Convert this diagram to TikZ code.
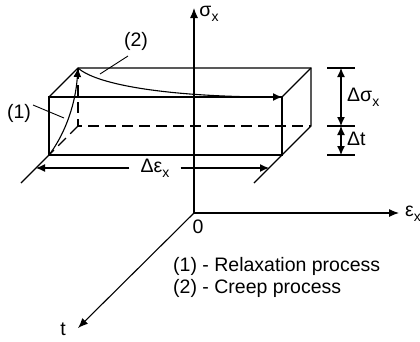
\documentclass[tikz,border=0pt]{standalone}
\usepackage{fontspec}
\setmainfont{Liberation Sans}
\usetikzlibrary{arrows.meta, calc}

\newcommand{\subx}{\raisebox{-0.5ex}{\fontsize{14}{14}\selectfont x}}

\begin{document}
\begin{tikzpicture}[x=1pt, y=-1pt,
  every node/.style={font=\fontsize{19.5}{23}\selectfont, inner sep=0pt},
  edge/.style={line width=1.1pt},
  hidden/.style={line width=1.1pt, dash pattern=on 11pt off 6pt},
  axis/.style={line width=1.1pt, -{Latex[length=10pt,width=8pt]}},
  dimline/.style={line width=1.1pt, {Latex[length=9pt,width=8pt]}-{Latex[length=9pt,width=8pt]}},
  leader/.style={line width=0.9pt}
]
\useasboundingbox (0,0) rectangle (420,341);

% axes
\coordinate (O) at (194,213);
\coordinate (sigtip) at (194,8);
\coordinate (epstip) at (399,213);
\coordinate (ttip) at (78,328);
\draw[axis] (O) -- (sigtip);
\draw[axis] (O) -- (epstip);
\draw[axis] (O) -- (ttip);
\node (siglab) at (209,14) {σ\subx};
\node (epslab) at (413,214) {ε\subx};
\node (tlab) at (63,329) {t};
\node (zero) at (198,227) {0};

% box corners
\coordinate (Fbl) at (49,155);
\coordinate (Ftl) at (49,97);
\coordinate (Ftr) at (282,97);
\coordinate (Fbr) at (282,155);
\coordinate (Bbl) at (78,126);
\coordinate (Btl) at (78,68);
\coordinate (Btr) at (311,68);
\coordinate (Bbr) at (311,126);

\draw[edge] (Ftl) -- (Ftr) -- (Fbr) -- (Fbl) -- cycle;
\draw[edge] (Ftl) -- (Btl) -- (Btr) -- (Bbr) -- (Fbr);
\draw[edge] (Btr) -- (Ftr);
\draw[hidden] (Btl) -- (Bbl) -- (Bbr);
\draw[hidden] (Bbl) -- (Fbl);

% relaxation and creep paths
\draw[edge, -{Latex[length=9pt,width=8pt]}] (Fbl) .. controls (62,138) and (75,110) .. (Btl);
\draw[edge, -{Latex[length=9pt,width=8pt]}] (Btl) .. controls (98,86) and (175,97) .. (Ftr);

\node (one) at (19,113) {(1)};
\node (two) at (136,41) {(2)};
\coordinate (onea) at (33,105);
\coordinate (oneb) at (64,118);
\coordinate (twoa) at (128,56);
\coordinate (twob) at (100,74);
\draw[leader] (onea) -- (oneb);
\draw[leader] (twoa) -- (twob);

% strain dimension
\coordinate (Lext) at (21,183);
\coordinate (Rext) at (254,183);
\coordinate (Ldim) at (36,168);
\coordinate (Rdim) at (269,168);
\draw[edge] (Fbl) -- (Lext);
\draw[edge] (Fbr) -- (Rext);
\node[inner xsep=11pt] (deps) at (155,168) {Δε\subx};
\draw[edge, -{Latex[length=9pt,width=8pt]}] (deps.west |- Ldim) -- (Ldim);
\draw[edge, -{Latex[length=9pt,width=8pt]}] (deps.east |- Rdim) -- (Rdim);

% stress and time dimensions
\foreach \yy/\nm in {68/top, 126/mid, 155/bot}{
  \coordinate (\nm a) at (327,\yy);
  \coordinate (\nm b) at (355,\yy);
  \coordinate (\nm d) at (341,\yy);
  \draw[edge] (\nm a) -- (\nm b);
}
\draw[dimline] (topd) -- (midd);
\draw[dimline] (midd) -- (botd);
\node[anchor=west] (dsig) at (347,97) {Δσ\subx};
\node[anchor=west] (dt) at (347,139) {Δt};

% legend
\node[anchor=base west] (leg1) at (173,271) {(1) - Relaxation process};
\node[anchor=base west] (leg2) at (173,293) {(2) - Creep process};

\end{tikzpicture}
\end{document}
